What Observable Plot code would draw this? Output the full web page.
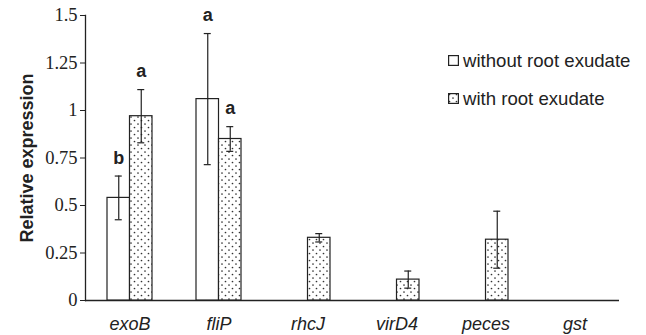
<!DOCTYPE html>
<html>
<head>
<meta charset="utf-8">
<script src="https://cdn.jsdelivr.net/npm/d3@7"></script>
<script src="https://cdn.jsdelivr.net/npm/@observablehq/plot@0.6"></script>
<style>
  body { margin: 0; background: #fff; }
  #wrap { position: relative; width: 646px; height: 335px; }
  #legend { position: absolute; left: 448px; top: 42px; font-family: "Liberation Sans", Arial, sans-serif; font-size: 18.6px; color: #222; }
  #legend .row { display: flex; align-items: center; height: 37.5px; line-height: 37.5px; }
  #legend .row svg { margin-right: 4px; }
</style>
</head>
<body>
<svg width="0" height="0" style="position:absolute">
  <defs>
    <pattern id="dots" patternUnits="userSpaceOnUse" width="7" height="7">
      <rect width="7" height="7" fill="#fff"></rect>
      <circle cx="1.5" cy="1.5" r="0.85" fill="#333"></circle>
      <circle cx="5" cy="5" r="0.85" fill="#333"></circle>
    </pattern>
  </defs>
</svg>
<div id="wrap">
  <div id="chart"></div>
  <div id="legend"></div>
</div>
<script>
const genes = ["exoB", "fliP", "rhcJ", "virD4", "peces", "gst"];
const seriesNames = ["without root exudate", "with root exudate"];
const withoutMean = [0.54, 1.06, null, null, null, null];
const withoutErr = [0.115, 0.345, null, null, null, null];
const withoutLetter = ["b", "a", null, null, null, null];
const withMean = [0.97, 0.85, 0.33, 0.11, 0.32, null];
const withErr = [0.14, 0.065, 0.022, 0.045, 0.15, null];
const withLetter = ["a", "a", null, null, null, null];
const yTicks = [0, 0.25, 0.5, 0.75, 1, 1.25, 1.5];
const yTickLabels = ["0", "0.25", "0.5", "0.75", "1", "1.25", "1.5"];

function build(means, errs, letters) {
  const out = [];
  genes.forEach((g, i) => {
    if (means[i] != null) out.push({gene: g, mean: means[i], lo: means[i] - errs[i], hi: means[i] + errs[i], letter: letters[i]});
  });
  return out;
}
const without = build(withoutMean, withoutErr, withoutLetter);
const withR = build(withMean, withErr, withLetter);

const SANS = "Liberation Sans";
const SERIF = "Liberation Serif";
const INK = "#222";

// pixel styling of the paired bars inside each 89px band
const half = 11.25;
function seriesMarks(data, fill, side) {
  const barInset = side < 0 ? {insetLeft: 22, insetRight: 44.5} : {insetLeft: 44.5, insetRight: 22};
  const capInset = side < 0 ? {insetLeft: 29.75, insetRight: 52.25} : {insetLeft: 52.25, insetRight: 29.75};
  return [
    Plot.barY(data, {x: "gene", y: "mean", fill, stroke: INK, strokeWidth: 1.2, ...barInset}),
    Plot.ruleX(data, {x: "gene", y1: "lo", y2: "hi", dx: side * half, stroke: INK, strokeWidth: 1.2}),
    Plot.tickY(data, {x: "gene", y: "lo", stroke: INK, strokeWidth: 1.2, ...capInset}),
    Plot.tickY(data, {x: "gene", y: "hi", stroke: INK, strokeWidth: 1.2, ...capInset}),
    Plot.text(data.filter(d => d.letter), {x: "gene", y: "hi", text: "letter", dx: side * half, dy: -18, fontSize: 18, fontWeight: "bold", fontFamily: SANS, fill: INK})
  ];
}

const chart = Plot.plot({
  width: 646,
  height: 335,
  marginLeft: 85,
  marginRight: 27,
  marginTop: 15,
  marginBottom: 35,
  x: {domain: genes, padding: 0, label: null},
  y: {domain: [0, 1.5], label: null},
  marks: [
    Plot.axisX({tickSize: 0, tickPadding: 17, fontSize: 18, fontStyle: "italic", fontFamily: SANS, label: null, fill: INK}),
    Plot.axisY({ticks: yTicks, tickFormat: (d) => yTickLabels[yTicks.indexOf(d)], tickSize: 5, tickPadding: 3, fontSize: 18.5, fontFamily: SERIF, label: null, fill: INK, stroke: INK}),
    Plot.axisY({ticks: [], label: "Relative expression", labelArrow: "none", labelAnchor: "center", labelOffset: 65, fontSize: 18, fontWeight: "bold", fontFamily: SANS, fill: INK}),
    Plot.frame({anchor: "left", stroke: INK, strokeWidth: 1.3}),
    Plot.ruleY([0], {stroke: INK, strokeWidth: 1.3}),
    ...seriesMarks(without, "#fff", -1),
    ...seriesMarks(withR, "url(#dots)", 1)
  ]
});
document.getElementById("chart").appendChild(chart);

const legend = document.getElementById("legend");
seriesNames.forEach((name, i) => {
  const row = document.createElement("div");
  row.className = "row";
  const fill = i === 0 ? "#fff" : "url(#dots)";
  row.innerHTML = `<svg width="11" height="11"><rect x="0.6" y="0.6" width="9.8" height="9.8" fill="${fill}" stroke="#222" stroke-width="1.2"></rect></svg><span>${name}</span>`;
  legend.appendChild(row);
});
</script>
</body>
</html>
